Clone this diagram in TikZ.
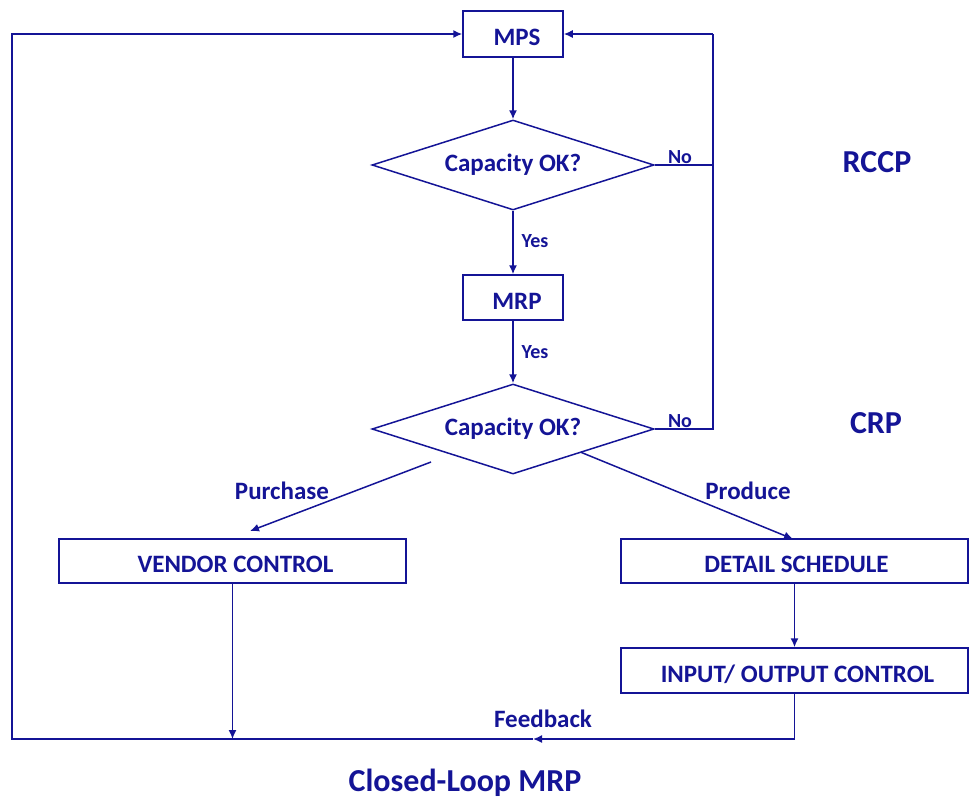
\documentclass[tikz,border=0pt]{standalone}
\usepackage{fontspec}
\setmainfont{Carlito}
\usetikzlibrary{shapes.geometric,arrows.meta}
\definecolor{navy}{RGB}{20,20,150}
\begin{document}
\begin{tikzpicture}[x=1pt,y=-1pt,
  every node/.style={text=navy,font=\fontsize{25}{30}\selectfont\bfseries},
  box/.style={draw=navy,line width=1.5pt,rectangle,inner sep=0pt,anchor=center,text height=23pt,text depth=0pt},
  dec/.style={draw=navy,line width=1.5pt,diamond,inner sep=0pt,minimum width=282pt,minimum height=90pt,aspect=3.13},
  lbl/.style={font=\fontsize{20}{24}\selectfont\bfseries},
  big/.style={font=\fontsize{32}{38}\selectfont\bfseries},
  conn/.style={draw=navy,line width=1.5pt},
  arr/.style={conn,-{Latex[length=9pt,width=8pt]}}]
\useasboundingbox (0,0) rectangle (971,804);
\node[box,minimum width=100pt,minimum height=46pt] (mps) at (513,34) {\hspace{8pt}MPS};
\node[dec] (d1) at (513,165) {Capacity OK?};
\node[box,minimum width=100pt,minimum height=45pt] (mrp) at (513,297.5) {\hspace{8pt}MRP};
\node[dec] (d2) at (513,429) {Capacity OK?};
\node[box,minimum width=347pt,minimum height=44pt] (vendor) at (232.5,561) {\hspace{6pt}VENDOR CONTROL};
\node[box,minimum width=347pt,minimum height=44pt] (detail) at (794.5,561) {\hspace{4pt}DETAIL SCHEDULE};
\node[box,minimum width=347pt,minimum height=45pt] (io) at (794.5,670.5) {\hspace{6pt}INPUT/ OUTPUT CONTROL};
\coordinate (rtop) at (713,34);
\coordinate (r1) at (713,165);
\coordinate (r2) at (713,429);
\coordinate (pstart) at (431,462);
\coordinate (pend) at (250,531);
\coordinate (prs) at (581,452.3);
\coordinate (pre) at (793,539);
\coordinate (vb) at (232.5,739);
\coordinate (fb) at (533,739);
\coordinate (bl) at (12,739);
% arrows
\draw[arr] (mps.south) -- (d1.north);
\draw[arr] (d1.south) -- (mrp.north);
\draw[arr] (mrp.south) -- (d2.north);
\draw[conn] (d1.east) -- (r1);
\draw[conn] (d2.east) -- (r2) -- (rtop);
\draw[arr] (rtop) -- (mps.east);
\draw[arr] (pstart) -- (pend);
\draw[arr] (prs) -- (pre);
\draw[arr] (detail.south) -- (io.north);
\draw[arr] (vendor.south) -- (vb);
\draw[arr] (io.south) |- (fb);
\draw[arr] (fb) -- (bl) |- (mps.west);
% labels
\node[lbl] (no1) at (680,157) {No};
\node[lbl] (no2) at (680,421) {No};
\node[lbl] (yes1) at (535,241) {Yes};
\node[lbl] (yes2) at (535,352) {Yes};
\node (purchase) at (282,491) {Purchase};
\node (produce) at (748,491) {Produce};
\node (feedback) at (543,719) {Feedback};
\node[big] (rccp) at (877,162) {RCCP};
\node[big] (crp) at (876,423) {CRP};
\node[big] (title) at (465,783) {Closed-Loop MRP};
\end{tikzpicture}
\end{document}
